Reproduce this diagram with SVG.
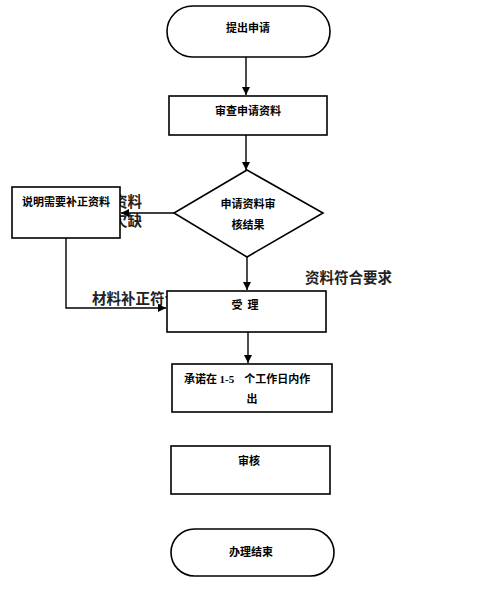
<svg xmlns="http://www.w3.org/2000/svg" width="484" height="600" viewBox="0 0 484 600">
<style>
.n{fill:#fff;stroke:#000;stroke-width:1.6}
.t{font-family:"Noto Sans CJK SC","Noto Sans",sans-serif;font-size:11px;font-weight:bold;fill:#000;text-anchor:middle}
.l{font-family:"Noto Sans CJK SC",sans-serif;font-size:14.5px;font-weight:bold;fill:#222}
.c{fill:none;stroke:#000;stroke-width:1.4}
</style>
<defs>
<marker id="a" viewBox="0 0 10 10" refX="10" refY="5" markerWidth="8" markerHeight="8" markerUnits="userSpaceOnUse" orient="auto">
<path d="M0,0 L10,5 L0,10 z" fill="#000"/>
</marker>
</defs>
<g id="labels">
<text class="l" x="113" y="207">资料</text>
<text class="l" x="113" y="226">欠缺</text>
<text class="l" x="92" y="304">材料补正符合</text>
<text class="l" x="305" y="283">资料符合要求</text>
</g>
<g id="connectors">
<line class="c" x1="246" y1="57" x2="246" y2="95" marker-end="url(#a)"/>
<line class="c" x1="246" y1="135" x2="246" y2="170" marker-end="url(#a)"/>
<line class="c" x1="174" y1="213" x2="121" y2="213" marker-end="url(#a)"/>
<polyline class="c" points="66,237 66,308 166,308" marker-end="url(#a)"/>
<line class="c" x1="247" y1="257" x2="247" y2="290" marker-end="url(#a)"/>
<line class="c" x1="248" y1="332" x2="248" y2="363" marker-end="url(#a)"/>
</g>
<g id="start">
<rect class="n" x="167" y="6" width="163" height="51" rx="25.5"/>
<text class="t" x="248" y="32">提出申请</text>
</g>
<g id="review">
<rect class="n" x="169" y="96" width="158" height="39"/>
<text class="t" x="248" y="115">审查申请资料</text>
</g>
<g id="decision">
<polygon class="n" points="247,170 323,213 247,257 174,213"/>
<text class="t" x="248" y="208">申请资料审</text>
<text class="t" x="248" y="229">核结果</text>
</g>
<g id="supplement">
<rect class="n" x="12" y="187" width="108" height="51"/>
<text class="t" x="66" y="206">说明需要补正资料</text>
</g>
<g id="accept">
<rect class="n" x="167" y="291" width="159" height="41"/>
<text class="t" x="245" y="309" xml:space="preserve">受  理</text>
</g>
<g id="promise">
<rect class="n" x="172" y="364" width="160" height="48"/>
<text class="t" x="184" y="383" style="text-anchor:start" xml:space="preserve">承诺在 <tspan font-family="'Liberation Serif',serif">1-5</tspan>    个工作日内作</text>
<text class="t" x="252" y="403">出</text>
</g>
<g id="audit">
<rect class="n" x="171" y="446" width="159" height="48"/>
<text class="t" x="249" y="465">审核</text>
</g>
<g id="end">
<rect class="n" x="171" y="529" width="163" height="47" rx="23.5"/>
<text class="t" x="251" y="556">办理结束</text>
</g>
</svg>
